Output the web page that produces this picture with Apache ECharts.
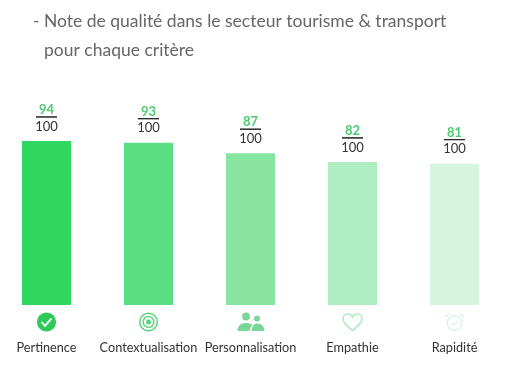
<!DOCTYPE html>
<html>
<head>
<meta charset="utf-8">
<style>
html, body { margin: 0; padding: 0; background: #fff; }
#chart { width: 511px; height: 369px; }
</style>
<script src="https://cdn.jsdelivr.net/npm/echarts@6/dist/echarts.min.js"></script>
</head>
<body>
<div id="chart"></div>
<script>
var categories = ['Pertinence', 'Contextualisation', 'Personnalisation', 'Empathie', 'Rapidité'];
var scores = [94, 93, 87, 82, 81];
var colors = ['#2fd760', '#5bdd82', '#88e5a1', '#aeecc1', '#d5f5df'];
var iconColors = ['#2fc95a', '#5bd47f', '#78d796', '#b4ecc6', '#d8f4e0'];
var scoreMax = 100;
var fontName = 'Lato';

// icons are drawn around (0,0), the custom series moves them under each bar
var drawIcon = function (index, c) {
    if (index === 0) {
        return [
            {type: 'circle', shape: {cx: 0, cy: 0, r: 9.6}, style: {fill: c}},
            {type: 'polyline', shape: {points: [[-5, 0], [-1.5, 3.8], [5, -3.6]]}, style: {fill: 'none', stroke: '#fff', lineWidth: 1.8}}
        ];
    }
    if (index === 1) {
        return [
            {type: 'circle', shape: {cx: 0, cy: 0, r: 8.8}, style: {fill: 'none', stroke: c, lineWidth: 1.5}},
            {type: 'circle', shape: {cx: 0, cy: 0, r: 5.4}, style: {fill: 'none', stroke: c, lineWidth: 1.5}},
            {type: 'circle', shape: {cx: 0, cy: 0, r: 2.5}, style: {fill: c}}
        ];
    }
    if (index === 2) {
        return [
            {type: 'circle', shape: {cx: -4.5, cy: -5.5, r: 3.9}, style: {fill: c}},
            {type: 'circle', shape: {cx: 6.5, cy: -3.5, r: 3}, style: {fill: c}},
            {type: 'path', shape: {pathData: 'M-13 9 C-13 3 -9 1 -4 1 C-1 1 1 2 2 3 C0 5 -1 7 -1 9 Z'}, style: {fill: c}},
            {type: 'path', shape: {pathData: 'M1 9 C1 4 4 1.5 7 1.5 C11 1.5 14 5 14 9 Z'}, style: {fill: c}}
        ];
    }
    if (index === 3) {
        return [
            {type: 'path', shape: {pathData: 'M0 8.5 C-5 4.5 -9.5 1 -9.5 -3 C-9.5 -6 -7.3 -8 -5 -8 C-3 -8 -1 -7 0 -5 C1 -7 3 -8 5 -8 C7.3 -8 9.5 -6 9.5 -3 C9.5 1 5 4.5 0 8.5 Z'}, style: {fill: 'none', stroke: c, lineWidth: 1.7}}
        ];
    }
    return [
        {type: 'circle', shape: {cx: 0, cy: 1, r: 7.3}, style: {fill: 'none', stroke: c, lineWidth: 1.5}},
        {type: 'polyline', shape: {points: [[-3, 1], [-0.8, 3.4], [3.2, -1]]}, style: {fill: 'none', stroke: c, lineWidth: 1.3}},
        {type: 'line', shape: {x1: -9, y1: -5, x2: -5.5, y2: -8.5}, style: {stroke: c, lineWidth: 1.6}},
        {type: 'line', shape: {x1: 9, y1: -5, x2: 5.5, y2: -8.5}, style: {stroke: c, lineWidth: 1.6}}
    ];
};

var myChart = echarts.init(document.getElementById('chart'));
var option = {
    animation: false,
    backgroundColor: '#fff',
    textStyle: {fontFamily: fontName},
    title: [
        {
            text: '- Note de qualité dans le secteur tourisme & transport',
            left: 28,
            top: 7,
            textStyle: {color: '#666', fontSize: 17.5, fontWeight: 'normal', fontFamily: fontName}
        },
        {
            text: 'pour chaque critère',
            left: 39,
            top: 36,
            textStyle: {color: '#666', fontSize: 17.5, fontWeight: 'normal', fontFamily: fontName}
        }
    ],
    grid: {
        left: -4.5,
        right: 5.5,
        top: 130.5,
        bottom: 64,
        outerBoundsMode: 'none'
    },
    xAxis: {
        type: 'category',
        data: categories,
        axisLine: {show: false},
        axisTick: {show: false},
        axisLabel: {
            interval: 0,
            margin: 36,
            color: '#333',
            fontSize: 12.7,
            fontFamily: fontName
        }
    },
    yAxis: {
        type: 'value',
        min: 0,
        max: scoreMax,
        show: false
    },
    series: [
        {
            type: 'bar',
            barWidth: 49,
            data: scores.map(function (v, i) {
                return {value: v, itemStyle: {color: colors[i]}};
            }),
            label: {
                show: true,
                position: 'top',
                distance: 5,
                formatter: function (p) {
                    return '{a|' + p.value + '}\n{hr|}\n{b|' + scoreMax + '}';
                },
                rich: {
                    a: {color: '#4ccb70', fontSize: 13, fontWeight: 'bold', fontFamily: fontName, align: 'center', lineHeight: 14},
                    hr: {borderColor: '#222', borderWidth: 1, width: 21, height: 0, align: 'center'},
                    b: {color: '#333', fontSize: 13, fontFamily: fontName, align: 'center', lineHeight: 19}
                }
            }
        },
        {
            type: 'custom',
            silent: true,
            data: categories.map(function (c, i) { return [i, 0]; }),
            encode: {x: 0, y: 1},
            renderItem: function (params, api) {
                var p = api.coord([api.value(0), api.value(1)]);
                return {
                    type: 'group',
                    x: p[0],
                    y: p[1] + 17,
                    children: drawIcon(params.dataIndex, iconColors[params.dataIndex])
                };
            }
        }
    ]
};
myChart.setOption(option);
</script>
</body>
</html>
